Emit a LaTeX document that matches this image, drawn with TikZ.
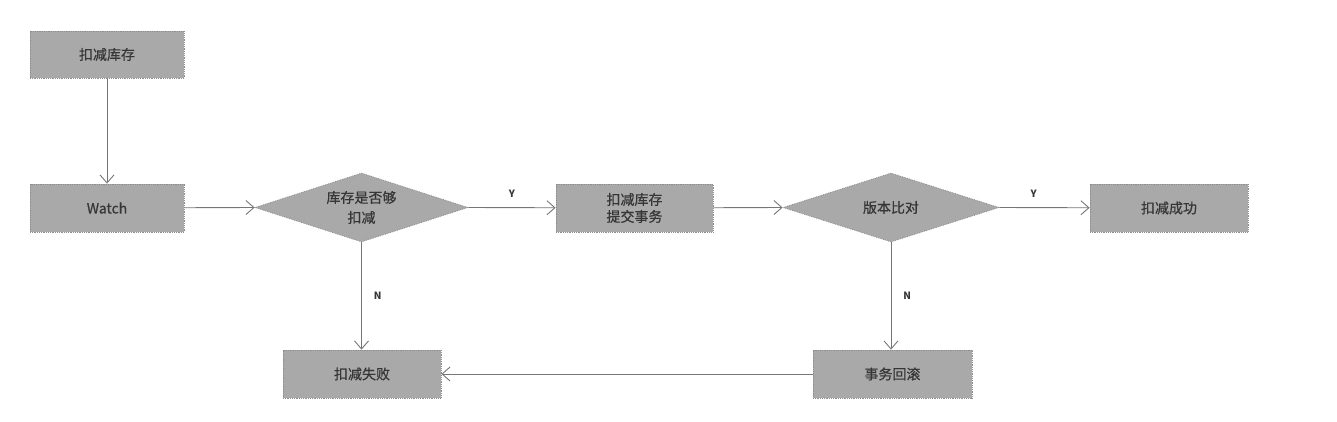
\documentclass[tikz,border=0pt]{standalone}
\usepackage{fontspec}
\setmainfont{Noto Sans CJK SC}
\newfontfamily\boxfont{Noto Sans CJK SC}[FakeBold=0.6]
\usetikzlibrary{shapes.geometric,arrows.meta}
\definecolor{boxfill}{HTML}{A9A9A9}
\definecolor{boxline}{HTML}{8E8E8E}
\definecolor{txt}{HTML}{363636}
\definecolor{conn}{HTML}{767676}
\tikzset{
  procbox/.style={rectangle, draw=boxline, fill=boxfill, line width=0.8pt, densely dotted,
    minimum width=156pt, minimum height=48pt, inner sep=0pt, text=txt,
    font=\boxfont\fontsize{14pt}{17pt}\selectfont, align=center},
  decide/.style={diamond, draw=boxline, fill=boxfill, line width=0.8pt, densely dotted,
    aspect=3.13, minimum width=215pt, minimum height=69pt, inner sep=0pt, text=txt,
    font=\boxfont\fontsize{14pt}{20pt}\selectfont, align=center},
  conn/.style={draw=conn, line width=0.9pt, -{Straight Barb[length=8pt,width=14pt]}},
  yn/.style={text=txt, font=\fontsize{10pt}{12pt}\selectfont\bfseries, inner sep=0pt}
}
\begin{document}
\begin{tikzpicture}[x=1pt,y=-1pt]
\useasboundingbox (0,0) rectangle (1337,422);
\node[procbox, minimum width=154pt, minimum height=47pt] (start) at (107,54.5) {扣减库存};
\node[procbox, minimum width=154pt] (watch) at (107,208) {Watch};
\node[decide, minimum width=213pt] (d1) at (361.5,207.5) {库存是否够\\扣减};
\node[procbox, minimum width=157pt] (commit) at (634.5,208) {扣减库存\\提交事务};
\node[decide, minimum width=216pt] (d2) at (891,207.5) {版本比对};
\node[procbox, minimum width=158pt] (ok) at (1169,208) {扣减成功};
\node[procbox, minimum width=158pt] (fail) at (362,374) {扣减失败};
\node[procbox, minimum width=159pt] (rollback) at (892.5,374) {事务回滚};

\draw[conn] (start) -- (watch);
\draw[conn] (watch) -- (d1.west);
\draw[conn] (d1.east) -- node[yn, above=10pt] (y1) {Y} (commit);
\draw[conn] (commit) -- (d2.west);
\draw[conn] (d2.east) -- node[yn, above=10pt, pos=0.38] (y2) {Y} (ok);
\draw[conn] (d1.south) -- node[yn, right=12pt] (n1) {N} (fail.north -| d1.south);
\draw[conn] (d2.south) -- node[yn, right=12pt] (n2) {N} (rollback.north -| d2.south);
\draw[conn] (rollback) -- (fail);
\end{tikzpicture}
\end{document}
